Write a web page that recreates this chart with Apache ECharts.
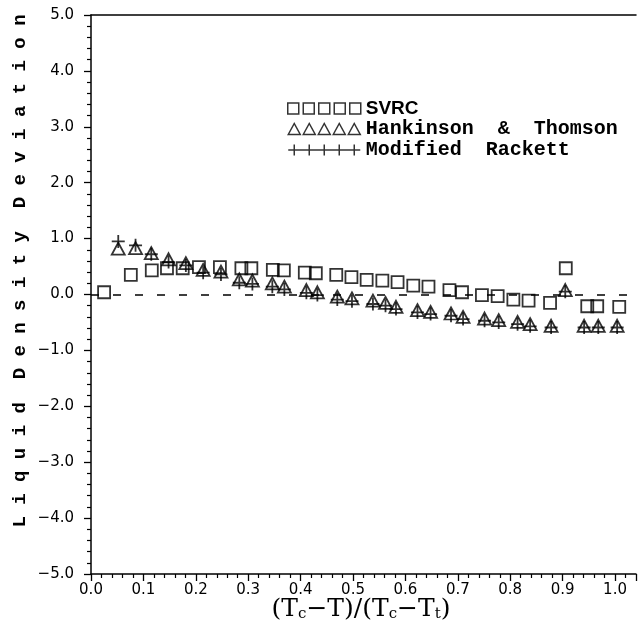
<!DOCTYPE html>
<html>
<head>
<meta charset="utf-8">
<script src="https://cdn.jsdelivr.net/npm/echarts@6/dist/echarts.min.js"></script>
<style>
  html, body { margin: 0; padding: 0; background: #fff; }
  #chart { width: 639px; height: 628px; }
</style>
</head>
<body>
<div id="chart"></div>
<script>
// values
const svrcX = [0.025, 0.076, 0.116, 0.145, 0.175, 0.206, 0.246, 0.287, 0.306, 0.347, 0.368, 0.408, 0.429, 0.468, 0.497, 0.526,
  0.556, 0.585, 0.615, 0.644, 0.684, 0.708, 0.746, 0.776, 0.806, 0.835, 0.876, 0.906, 0.947, 0.966, 1.008];
const svrcY = [0.04, 0.35, 0.43, 0.47, 0.47, 0.49, 0.49, 0.47, 0.47, 0.44, 0.43, 0.39, 0.38, 0.35, 0.31, 0.26,
  0.25, 0.22, 0.16, 0.14, 0.08, 0.04, -0.01, -0.03, -0.09, -0.11, -0.15, 0.47, -0.21, -0.21, -0.22];

const htX = [0.052, 0.085, 0.115, 0.148, 0.181, 0.214, 0.248, 0.283, 0.308, 0.346, 0.369, 0.411, 0.432, 0.47, 0.498, 0.538,
  0.562, 0.582, 0.623, 0.648, 0.687, 0.71, 0.751, 0.778, 0.814, 0.838, 0.878, 0.905, 0.941, 0.968, 1.004];
const htY = [0.82, 0.83, 0.74, 0.63, 0.56, 0.44, 0.41, 0.27, 0.25, 0.20, 0.14, 0.08, 0.04, -0.04, -0.07, -0.11,
  -0.15, -0.22, -0.28, -0.31, -0.34, -0.40, -0.43, -0.46, -0.49, -0.53, -0.56, 0.08, -0.56, -0.56, -0.56];

const mrX = htX;
const mrY = [0.95, 0.88, 0.72, 0.58, 0.52, 0.39, 0.36, 0.21, 0.19, 0.14, 0.09, 0.03, -0.01, -0.09, -0.12, -0.17,
  -0.20, -0.26, -0.32, -0.35, -0.38, -0.44, -0.47, -0.50, -0.53, -0.57, -0.59, 0.05, -0.59, -0.59, -0.59];

const seriesNames = ['SVRC', 'Hankinson & Thomson', 'Modified Rackett'];
const legendLabels = ['SVRC', 'Hankinson  &  Thomson', 'Modified  Rackett'];

function pairs(xs, ys) {
  return xs.map((x, i) => [x, ys[i]]);
}

// legend icons: five marks in a row
const squaresIcon = 'path://M0,0h11v11h-11z M15.5,0h11v11h-11z M31,0h11v11h-11z M46.5,0h11v11h-11z M62,0h11v11h-11z';
const trianglesIcon = 'path://M0,11L6,0L12,11Z M15,11L21,0L27,11Z M30,11L36,0L42,11Z M45,11L51,0L57,11Z M60,11L66,0L72,11Z';
const plusIcon = 'path://M0,5.5H72 M6,0V11 M21,0V11 M36,0V11 M51,0V11 M66,0V11';
const plusSymbol = 'path://M6,0V12 M0,6H12';

const black = '#000';
const hollow = { color: 'rgba(0,0,0,0)', borderColor: black, borderWidth: 1.8 };
const tickFont = { fontFamily: 'DejaVu Sans', fontSize: 15, color: black };
const axisMax = 1.04;

const chart = echarts.init(document.getElementById('chart'), null, { renderer: 'canvas' });

chart.setOption({
  backgroundColor: '#fff',
  animation: false,
  grid: { left: 91, right: 0, top: 15, bottom: 54 },
  legend: {
    orient: 'vertical',
    left: 287, top: 99, padding: 0,
    itemWidth: 73, itemHeight: 11, itemGap: 1,
    itemStyle: { color: 'rgba(0,0,0,0)', borderColor: black, borderWidth: 1.5 },
    data: [
      { name: seriesNames[0], icon: squaresIcon },
      { name: seriesNames[1], icon: trianglesIcon },
      { name: seriesNames[2], icon: plusIcon }
    ],
    formatter: name => {
      const i = seriesNames.indexOf(name);
      return i === 0 ? '{s|' + legendLabels[i] + '}' : legendLabels[i];
    },
    textStyle: {
      fontFamily: 'Liberation Mono', fontWeight: 'bold', fontSize: 20, color: black,
      rich: { s: { fontFamily: 'Liberation Sans', fontSize: 19, color: black } }
    },
    selectedMode: false
  },
  xAxis: [
    {
      type: 'value', min: 0, max: axisMax, interval: 0.1,
      axisLine: { onZero: false, lineStyle: { color: black, width: 1.5 } },
      axisTick: { length: 7, lineStyle: { color: black, width: 1.3 } },
      minorTick: { show: true, splitNumber: 5, length: 4, lineStyle: { color: black, width: 1.2 } },
      splitLine: { show: false },
      axisLabel: Object.assign({
        margin: 9,
        formatter: v => (v > 1.001 ? '' : v.toFixed(1))
      }, tickFont)
    },
    {
      type: 'value', position: 'top', min: 0, max: axisMax,
      axisLine: { show: true, onZero: false, lineStyle: { color: black, width: 1.5 } },
      axisTick: { show: false }, axisLabel: { show: false }, splitLine: { show: false }
    }
  ],
  yAxis: {
    type: 'value', min: -5, max: 5, interval: 1,
    axisLine: { onZero: false, lineStyle: { color: black, width: 1.5 } },
    axisTick: { length: 7, lineStyle: { color: black, width: 1.3 } },
    minorTick: { show: true, splitNumber: 5, length: 4, lineStyle: { color: black, width: 1.2 } },
    splitLine: { show: false },
    axisLabel: Object.assign({
      margin: 17,
      formatter: v => v.toFixed(1).replace('-', '\u2212')
    }, tickFont)
  },
  graphic: [
    {
      type: 'text', x: 20, y: 271, rotation: Math.PI / 2,
      style: {
        text: 'L i q u i d  D e n s i t y  D e v i a t i o n',
        fontFamily: 'Liberation Mono', fontWeight: 'bold', fontSize: 19, fill: black,
        align: 'center', verticalAlign: 'middle'
      }
    },
    {
      type: 'text', x: 361, y: 609,
      style: {
        text: '(T{sub|c}\u2212T)/(T{sub|c}\u2212T{sub|t})',
        fontFamily: 'DejaVu Serif', fontSize: 25, fill: black,
        align: 'center', verticalAlign: 'middle',
        rich: {
          sub: { fontFamily: 'DejaVu Serif', fontSize: 15, verticalAlign: 'bottom', padding: [10, 0, 0, 0] }
        }
      }
    }
  ],
  series: [
    {
      name: seriesNames[0], type: 'scatter', symbol: 'rect', symbolSize: 12,
      itemStyle: hollow, z: 3,
      data: pairs(svrcX, svrcY),
      markLine: {
        silent: true, symbol: ['none', 'none'], label: { show: false },
        lineStyle: { color: black, type: [8, 14], width: 1.6 },
        emphasis: { disabled: true },
        data: [{ yAxis: 0 }]
      }
    },
    {
      name: seriesNames[1], type: 'scatter', symbol: 'triangle', symbolSize: [13, 12],
      itemStyle: hollow, z: 3,
      data: pairs(htX, htY)
    },
    {
      name: seriesNames[2], type: 'scatter', symbol: plusSymbol, symbolSize: 13,
      itemStyle: hollow, z: 3,
      data: pairs(mrX, mrY)
    }
  ]
});
</script>
</body>
</html>
